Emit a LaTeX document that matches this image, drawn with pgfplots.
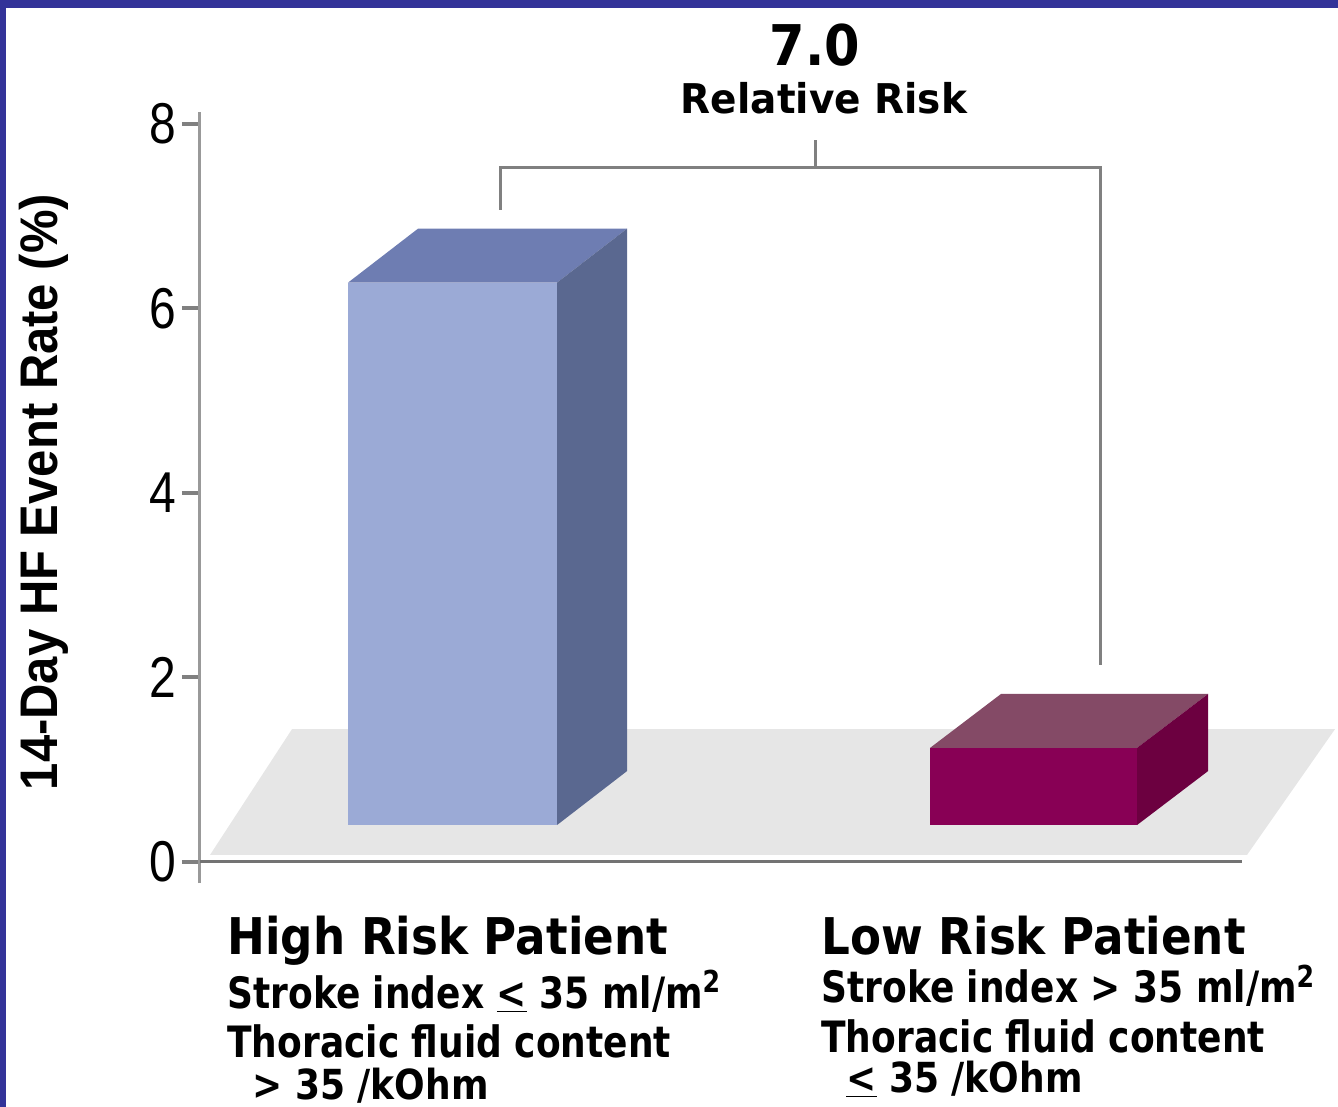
\documentclass[border=0pt]{standalone}
\usepackage{pgfplots}
\pgfplotsset{compat=1.18}
\usepackage{fontspec}
\setmainfont{DejaVu Sans}
\newfontfamily\arial{Liberation Sans}
\definecolor{framecol}{HTML}{333399}
\definecolor{floorcol}{HTML}{E6E6E6}
\definecolor{hifront}{HTML}{9BAAD6}
\definecolor{hiside}{HTML}{5A6890}
\definecolor{hitop}{HTML}{6E7DB2}
\definecolor{lofront}{HTML}{880055}
\definecolor{loside}{HTML}{6C0040}
\definecolor{lotop}{HTML}{844A66}
\definecolor{brk}{HTML}{808080}
\newcommand{\vs}[2]{\scalebox{1}[#1]{#2}}
\newcommand{\sub}{\fontsize{18}{22}\selectfont\bfseries}
\newcommand{\head}{\fontsize{22.6}{27}\selectfont\bfseries}

\begin{document}
\begin{tikzpicture}
\begin{axis}[
  x=0.5pt, y=46.125pt,
  xmin=200, xmax=1338, ymin=-0.228, ymax=8.13,
  axis x line=none, axis y line*=left,
  clip=false,
  ytick={0,2,4,6,8},
  tick align=outside, major tick length=9pt,
  axis line style={black!40, line width=1.5pt},
  ytick style={black!50, line width=2pt},
  /pgf/number format/assume math mode=true,
  yticklabel style={font=\arial\fontsize{24}{24}\selectfont, inner sep=0pt, xshift=-2.5pt},
  yticklabel={\vs{1.2}{\pgfmathprintnumber{\tick}}},
]
% floor
\addplot[fill=floorcol, draw=none] coordinates {(210,0.076) (1247,0.076) (1335,1.44) (292,1.44)};
% high risk bar (front, top, side)
\addplot[fill=hifront, draw=none] coordinates {(348,0.40) (557,0.40) (557,6.28) (348,6.28)};
\addplot[fill=hitop, draw=none] coordinates {(348,6.28) (557,6.28) (627,6.865) (418,6.865)};
\addplot[fill=hiside, draw=none] coordinates {(557,0.40) (627,0.985) (627,6.865) (557,6.28)};
% low risk bar
\addplot[fill=lofront, draw=none] coordinates {(930,0.40) (1137,0.40) (1137,1.236) (930,1.236)};
\addplot[fill=lotop, draw=none] coordinates {(930,1.236) (1137,1.236) (1208,1.821) (1001,1.821)};
\addplot[fill=loside, draw=none] coordinates {(1137,0.40) (1208,0.985) (1208,1.821) (1137,1.236)};
% base line
\addplot[black!55, line width=1.5pt] coordinates {(200,0) (1242,0)};
% bracket
\addplot[brk, line width=1.5pt] coordinates {(500,7.068) (500,7.523) (1100,7.523) (1100,2.136)};
\addplot[brk, line width=1.5pt] coordinates {(815,7.523) (815,7.827)};

% frame
\fill[framecol] (axis cs:0,9.344) rectangle (axis cs:1338,9.257);
\fill[framecol] (axis cs:0,9.344) rectangle (axis cs:6,-2.656);

\node[font=\fontsize{25.5}{30}\selectfont\bfseries] at (axis cs:815,8.857) {\vs{1.1}{7.0}};
\node[font=\fontsize{19.5}{23}\selectfont\bfseries] at (axis cs:824,8.282) {\vs{1.05}{Relative Risk}};

\node[rotate=90, anchor=base, inner sep=0pt] at (axis cs:58,4.01)
  {\arial\bfseries\fontsize{24.5}{28}\selectfont\vs{1.08}{14-Day HF Event Rate (\%)}};

\node[anchor=base west, inner sep=0pt] at (axis cs:227,-1.008) {\head\vs{1.12}{High Risk Patient}};
\node[anchor=base west, inner sep=0pt] at (axis cs:227,-1.583) {\sub\vs{1.2}{Stroke index \underline{<} 35 ml/m\textsuperscript{2}}};
\node[anchor=base west, inner sep=0pt] at (axis cs:227,-2.120) {\sub\vs{1.2}{Thoracic fluid content}};
\node[anchor=base west, inner sep=0pt] at (axis cs:252,-2.575) {\sub\vs{1.15}{> 35 /kOhm}};

\node[anchor=base west, inner sep=0pt] at (axis cs:821,-1.008) {\head\vs{1.12}{Low Risk Patient}};
\node[anchor=base west, inner sep=0pt] at (axis cs:821,-1.528) {\sub\vs{1.2}{Stroke index > 35 ml/m\textsuperscript{2}}};
\node[anchor=base west, inner sep=0pt] at (axis cs:821,-2.070) {\sub\vs{1.2}{Thoracic fluid content}};
\node[anchor=base west, inner sep=0pt] at (axis cs:846,-2.504) {\sub\vs{1.15}{\underline{<} 35 /kOhm}};

\coordinate (bbA) at (axis cs:0,-2.656);
\coordinate (bbB) at (axis cs:1338,9.344);
\end{axis}
\pgfresetboundingbox
\path[use as bounding box] (bbA) rectangle (bbB);
\end{tikzpicture}
\end{document}
